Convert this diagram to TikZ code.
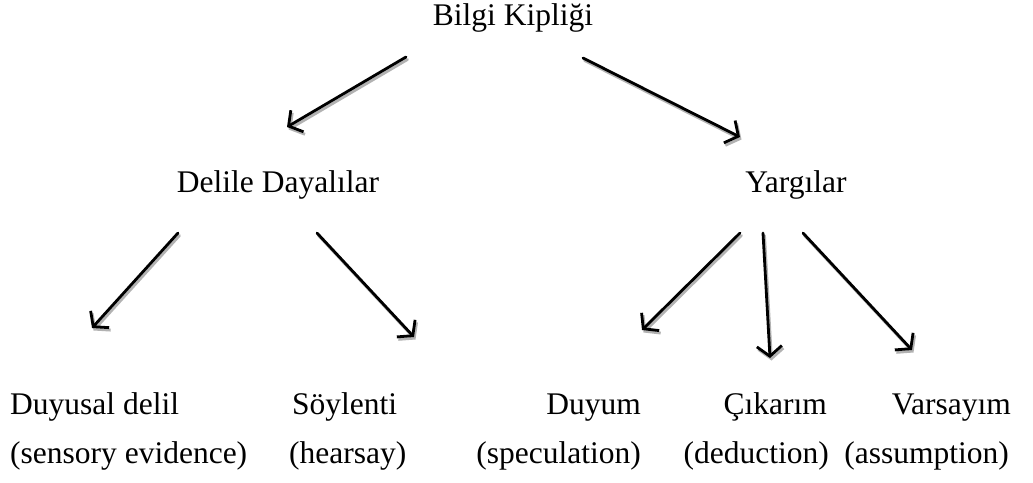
\documentclass[tikz,border=0pt]{standalone}
\usepackage{fontspec}
\setmainfont{Liberation Serif}
\usetikzlibrary{arrows.meta}
\tikzset{
  lbl/.style={inner sep=0pt, font=\fontsize{31.5}{37}\selectfont},
  arr/.style={line width=2.8pt, line cap=round, -{Straight Barb[length=10pt,width=25pt,line width=2.8pt]}},
  shd/.style={arr, draw=black!30, transform canvas={shift={(1.5pt,-2.5pt)}}}
}
\newcommand{\myarrow}[2]{%
  \draw[shd] (#1) -- (#2);
  \draw[arr] (#1) -- (#2);}
\begin{document}
\begin{tikzpicture}[x=1pt,y=-1pt]
\useasboundingbox[fill=white] (0,0) rectangle (1033,482);
% labels
\node[lbl, anchor=base] (bk) at (513,25) {Bilgi Kipliği};
\node[lbl, anchor=base] (dd) at (278,192) {Delile Dayalılar};
\node[lbl, anchor=base] (yg) at (796,192) {Yargılar};
\node[lbl, anchor=base west] (dl) at (10,414) {Duyusal delil};
\node[lbl, anchor=base west] (dle) at (10,463) {(sensory evidence)};
\node[lbl, anchor=base west] (sy) at (292,414) {Söylenti};
\node[lbl, anchor=base west] (sye) at (289,463) {(hearsay)};
\node[lbl, anchor=base east] (du) at (641,414) {Duyum};
\node[lbl, anchor=base east] (due) at (641,463) {(speculation)};
\node[lbl, anchor=base east] (ck) at (827,414) {Çıkarım};
\node[lbl, anchor=base east] (cke) at (829,463) {(deduction)};
\node[lbl, anchor=base east] (vs) at (1011,414) {Varsayım};
\node[lbl, anchor=base east] (vse) at (1009,463) {(assumption)};
% arrow end points
\coordinate (a1s) at (406,57);  \coordinate (a1e) at (287,127);
\coordinate (a2s) at (583,58);  \coordinate (a2e) at (740,137);
\coordinate (a3s) at (178,233); \coordinate (a3e) at (92,328);
\coordinate (a4s) at (317,233); \coordinate (a4e) at (414,337);
\coordinate (a5s) at (740,233); \coordinate (a5e) at (642,330);
\coordinate (a6s) at (763,233); \coordinate (a6e) at (770,358);
\coordinate (a7s) at (803,233); \coordinate (a7e) at (912,350);
\myarrow{a1s}{a1e}
\myarrow{a2s}{a2e}
\myarrow{a3s}{a3e}
\myarrow{a4s}{a4e}
\myarrow{a5s}{a5e}
\myarrow{a6s}{a6e}
\myarrow{a7s}{a7e}
\end{tikzpicture}
\end{document}
